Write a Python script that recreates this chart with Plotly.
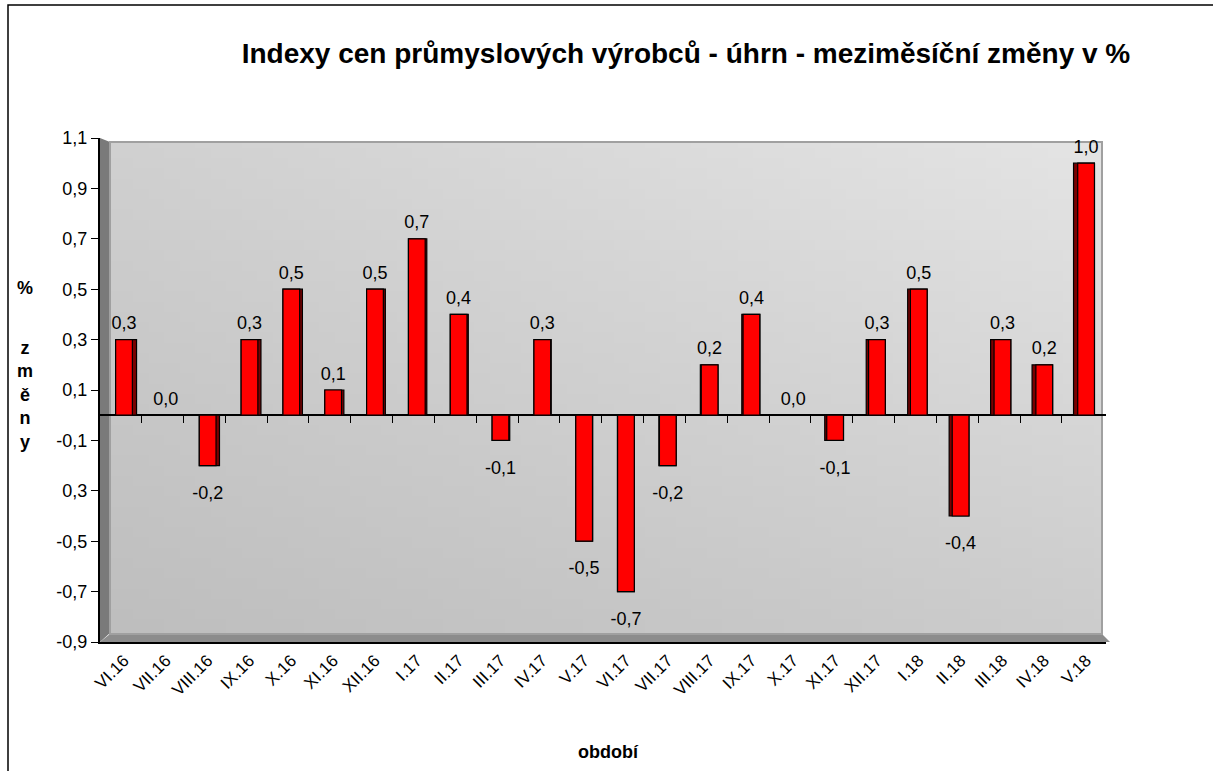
import base64
import struct
import zlib
import plotly.graph_objects as go

# ---------------- data ----------------
categories = ["VI.16", "VII.16", "VIII.16", "IX.16", "X.16", "XI.16", "XII.16",
              "I.17", "II.17", "III.17", "IV.17", "V.17", "VI.17", "VII.17",
              "VIII.17", "IX.17", "X.17", "XI.17", "XII.17", "I.18", "II.18",
              "III.18", "IV.18", "V.18"]
values = [0.3, 0.0, -0.2, 0.3, 0.5, 0.1, 0.5, 0.7, 0.4, -0.1, 0.3, -0.5,
          -0.7, -0.2, 0.2, 0.4, 0.0, -0.1, 0.3, 0.5, -0.4, 0.3, 0.2, 1.0]
ytick_vals = [1.1, 0.9, 0.7, 0.5, 0.3, 0.1, -0.1, -0.3, -0.5, -0.7, -0.9]
ytick_text = ["1,1", "0,9", "0,7", "0,5", "0,3", "0,1", "-0,1", "0,3",
              "-0,5", "-0,7", "-0,9"]
title_text = "Indexy cen průmyslových výrobců - úhrn - meziměsíční změny v %"

# ---------------- geometry helpers (pixels -> paper) ----------------
W, H = 1213, 771
L, R, T, B = 100, 1106, 138, 642


def px(x):
    return (x - L) / (R - L)


def py(y):
    return (B - y) / (B - T)


def gradient_png(w, h, tl, tr, bl, br):
    rows = []
    for j in range(h):
        v = j / (h - 1)
        row = bytearray([0])
        for i in range(w):
            u = i / (w - 1)
            for k in range(3):
                top = tl[k] * (1 - u) + tr[k] * u
                bot = bl[k] * (1 - u) + br[k] * u
                row.append(int(round(top * (1 - v) + bot * v)))
        rows.append(bytes(row))
    raw = b"".join(rows)

    def chunk(t, d):
        c = struct.pack(">I", len(d)) + t + d
        return c + struct.pack(">I", zlib.crc32(t + d) & 0xffffffff)

    png = (b"\x89PNG\r\n\x1a\n"
           + chunk(b"IHDR", struct.pack(">IIBBBBB", w, h, 8, 2, 0, 0, 0))
           + chunk(b"IDAT", zlib.compress(raw))
           + chunk(b"IEND", b""))
    return "data:image/png;base64," + base64.b64encode(png).decode()


n = len(categories)
idx = list(range(n))
x_lo = (L - 124) / 41.83
x_hi = (R - 124) / 41.83

# 3D-ish side strip, perspective: right side for left bars, left side for right bars
front_w = 0.40
side = [0.10 * ((n - 1) / 2 - i) / ((n - 1) / 2) for i in idx]
back_width = [front_w + abs(s) for s in side]
back_offset = [-front_w / 2 + min(s, 0) for s in side]

labels = [f"{v:.1f}".replace(".", ",") for v in values]
label_pos = ["top center" if v >= 0 else "bottom center" for v in values]
label_gap = [8 if v >= 0 else 30 for v in values]

FONT = "Liberation Sans, Arial, sans-serif"

fig = go.Figure()
fig.add_trace(go.Bar(
    x=idx, y=values, width=back_width, offset=back_offset,
    marker=dict(color="#7a0000", line=dict(color="black", width=1.2)),
    hoverinfo="skip"))
fig.add_trace(go.Bar(
    x=idx, y=values, width=front_w, offset=-front_w / 2,
    marker=dict(color="#ff0000", line=dict(color="black", width=1.2)),
    hoverinfo="skip"))
fig.add_trace(go.Scatter(
    x=idx, y=values, text=labels, mode="markers+text", textposition=label_pos,
    marker=dict(size=label_gap, color="rgba(0,0,0,0)",
                line=dict(width=0, color="rgba(0,0,0,0)")),
    textfont=dict(family=FONT, size=18, color="black"),
    cliponaxis=False, xaxis="x2", hoverinfo="skip"))

bg_src = gradient_png(64, 48, (208, 208, 208), (228, 228, 228),
                      (190, 190, 190), (204, 204, 204))

shapes = [
    # left side wall
    dict(type="path", xref="paper", yref="paper", layer="below",
         path=f"M {px(100)} {py(138)} L {px(110)} {py(142)} L {px(110)} {py(633)} "
              f"L {px(100)} {py(642)} Z",
         fillcolor="#7a7a7a", line=dict(width=0)),
    # floor
    dict(type="path", xref="paper", yref="paper", layer="below",
         path=f"M {px(100)} {py(642)} L {px(110)} {py(634)} L {px(1102)} {py(634)} "
              f"L {px(1110)} {py(642)} Z",
         fillcolor="#8c8c8c", line=dict(width=0)),
    # back wall border
    dict(type="rect", xref="paper", yref="paper", layer="below",
         x0=px(110), x1=px(1102), y0=py(634), y1=py(142),
         fillcolor="rgba(0,0,0,0)", line=dict(color="#a0a0a0", width=2)),
    # outer frame
    dict(type="rect", xref="paper", yref="paper", layer="above",
         x0=px(8), x1=px(1240), y0=py(800), y1=py(5),
         fillcolor="rgba(0,0,0,0)", line=dict(color="black", width=1.5)),
]

annotations = [
    dict(text="<b>%</b>", xref="paper", yref="paper", x=px(25), y=py(288),
         showarrow=False, font=dict(family=FONT, size=18, color="black"),
         xanchor="center", yanchor="middle"),
    dict(text="<b>z<br>m<br>ě<br>n<br>y</b>", xref="paper", yref="paper",
         x=px(25), y=py(395), showarrow=False,
         font=dict(family=FONT, size=18, color="black"),
         xanchor="center", yanchor="middle"),
    dict(text="<b>období</b>", xref="paper", yref="paper", x=px(608), y=py(752),
         showarrow=False, font=dict(family=FONT, size=18, color="black"),
         xanchor="center", yanchor="middle"),
]

fig.update_layout(
    width=W, height=H,
    margin=dict(l=L, r=W - R, t=T, b=H - B, pad=0),
    paper_bgcolor="white",
    plot_bgcolor="rgba(0,0,0,0)",
    showlegend=False,
    barmode="overlay",
    font=dict(family=FONT, color="black"),
    title=dict(text=f"<b>{title_text}</b>", xref="container", yref="container",
               x=686 / W, xanchor="center", y=1 - 53 / H, yanchor="middle",
               font=dict(family=FONT, size=28, color="black")),
    xaxis=dict(range=[x_lo, x_hi], tickmode="array", tickvals=idx,
               ticktext=categories, tickangle=-45, ticks="",
               tickfont=dict(family=FONT, size=17, color="black"),
               showline=True, linecolor="black", linewidth=2,
               showgrid=False, zeroline=False, fixedrange=True),
    xaxis2=dict(range=[x_lo, x_hi], overlaying="x", anchor="free",
                position=0.45, side="bottom", tickmode="array",
                tickvals=[i + 0.42 for i in range(n - 1)],
                ticks="outside", ticklen=7, tickwidth=1, tickcolor="black",
                showticklabels=False, showline=False, showgrid=False,
                zeroline=False, fixedrange=True),
    yaxis=dict(range=[-0.9, 1.1], tickmode="array", tickvals=ytick_vals,
               ticktext=ytick_text, ticks="outside", ticklen=7,
               tickwidth=1, tickcolor="black",
               tickfont=dict(family=FONT, size=18, color="black"),
               showline=True, linecolor="black", linewidth=2,
               showgrid=False, zeroline=True, zerolinecolor="black",
               zerolinewidth=2, fixedrange=True),
    images=[dict(source=bg_src, xref="paper", yref="paper",
                 x=px(110), y=py(142), sizex=px(1102) - px(110),
                 sizey=py(142) - py(634), xanchor="left", yanchor="top",
                 sizing="stretch", layer="below")],
    shapes=shapes,
    annotations=annotations,
)

fig.write_html("out.html", config={"displayModeBar": False},
               post_script="document.body.style.margin='0';")
